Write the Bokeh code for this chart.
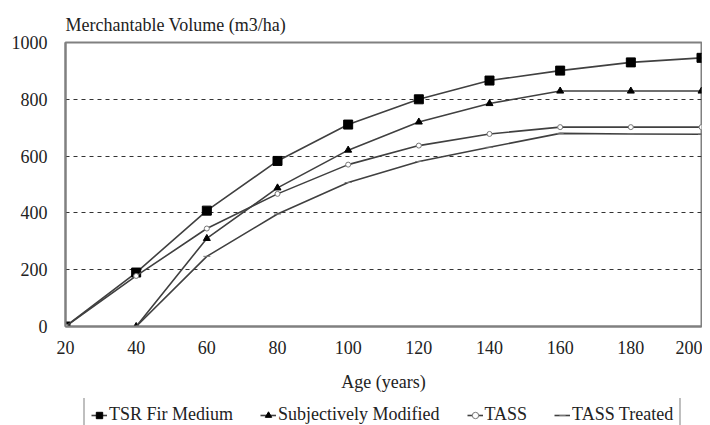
from bokeh.plotting import figure
from bokeh.layouts import column
from bokeh.models import Legend, LegendItem, Range1d, FixedTicker
from bokeh.embed import file_html
from bokeh.resources import INLINE

nan = float("nan")

ages = [20, 40, 60, 80, 100, 120, 140, 160, 180, 200]
tsr_fir_medium = [0, 190, 408, 583, 711, 800, 866, 901, 930, 946]
subjectively_modified = [nan, 0, 310, 488, 621, 720, 785, 829, 829, 829]
tass = [0, 178, 345, 467, 570, 637, 678, 702, 702, 702]
tass_treated = [nan, 0, 247, 396, 507, 581, 631, 680, 678, 677]

series_names = ["TSR Fir Medium", "Subjectively Modified", "TASS", "TASS Treated"]
y_ticks = [0, 200, 400, 600, 800, 1000]
grid_ticks = [200, 400, 600, 800]

FONT = "Liberation Serif"
FS = "18px"
LINE = "#404040"

p = figure(width=702, height=398, output_backend="svg", toolbar_location=None,
           x_range=Range1d(20, 200), y_range=Range1d(0, 1000),
           min_border_left=65, min_border_right=1, min_border_top=42,
           min_border_bottom=72)
p.background_fill_color = "white"
p.border_fill_color = "white"
p.outline_line_color = "#808080"
p.outline_line_width = 2

p.title.text = "Merchantable Volume (m3/ha)"
p.title.align = "left"
p.title.text_font = FONT
p.title.text_font_size = FS
p.title.text_font_style = "normal"
p.title.text_color = "#222222"
p.title.standoff = 16

p.xgrid.visible = False
p.ygrid.ticker = FixedTicker(ticks=grid_ticks)
p.ygrid.grid_line_color = "#333333"
p.ygrid.grid_line_dash = "4 4"
p.ygrid.grid_line_width = 1.2

for ax in (p.xaxis[0], p.yaxis[0]):
    ax.axis_line_color = "#808080"
    ax.axis_line_width = 2
    ax.major_tick_line_color = None
    ax.minor_tick_line_color = None
    ax.major_label_text_font = FONT
    ax.major_label_text_font_size = FS
    ax.major_label_text_color = "#222222"
    ax.axis_label_text_font = FONT
    ax.axis_label_text_font_size = FS
    ax.axis_label_text_font_style = "normal"
    ax.axis_label_text_color = "#222222"

p.xaxis.ticker = FixedTicker(ticks=ages)
p.yaxis.ticker = FixedTicker(ticks=y_ticks)
p.xaxis.major_label_standoff = 8
p.yaxis.major_label_standoff = 12
p.xaxis.axis_label = "Age (years)"
p.xaxis.axis_label_standoff = 15


def draw(fig, ys, marker, size, fill, line):
    rl = fig.line(ages, ys, line_color=LINE, line_width=1.6)
    rm = fig.scatter(ages, ys, marker=marker, size=size, fill_color=fill, line_color=line)
    return [rl, rm]


styles = [("square", 9, "black", "black"),
          ("triangle", 7, "black", "black"),
          ("circle", 5, "white", "#777777"),
          ("dash", 7, None, "#777777")]
data = [tsr_fir_medium, subjectively_modified, tass, tass_treated]

for ys, st in zip(data, styles):
    draw(p, ys, *st)

# legend strip below the chart
p2 = figure(width=702, height=40, output_backend="svg", toolbar_location=None,
            x_range=Range1d(0, 1), y_range=Range1d(0, 1),
            min_border_left=65, min_border_right=1, min_border_top=0, min_border_bottom=0)
p2.axis.visible = False
p2.grid.visible = False
p2.outline_line_color = None
p2.background_fill_color = "white"
p2.border_fill_color = "white"

items = []
for name, ys, st in zip(series_names, data, styles):
    items.append(LegendItem(label=name, renderers=draw(p2, ys, *st)))

legend = Legend(items=items, orientation="horizontal", location=(18, 5))
legend.label_text_font = FONT
legend.label_text_font_size = FS
legend.label_text_color = "#222222"
legend.border_line_color = "#808080"
legend.border_line_width = 2
legend.glyph_width = 16
legend.glyph_height = 16
legend.label_standoff = 2
legend.spacing = 27
legend.padding = 6
legend.margin = 0
p2.add_layout(legend, "center")

layout = column(p, p2, spacing=0)
open("out.html", "w").write(file_html(layout, INLINE))
